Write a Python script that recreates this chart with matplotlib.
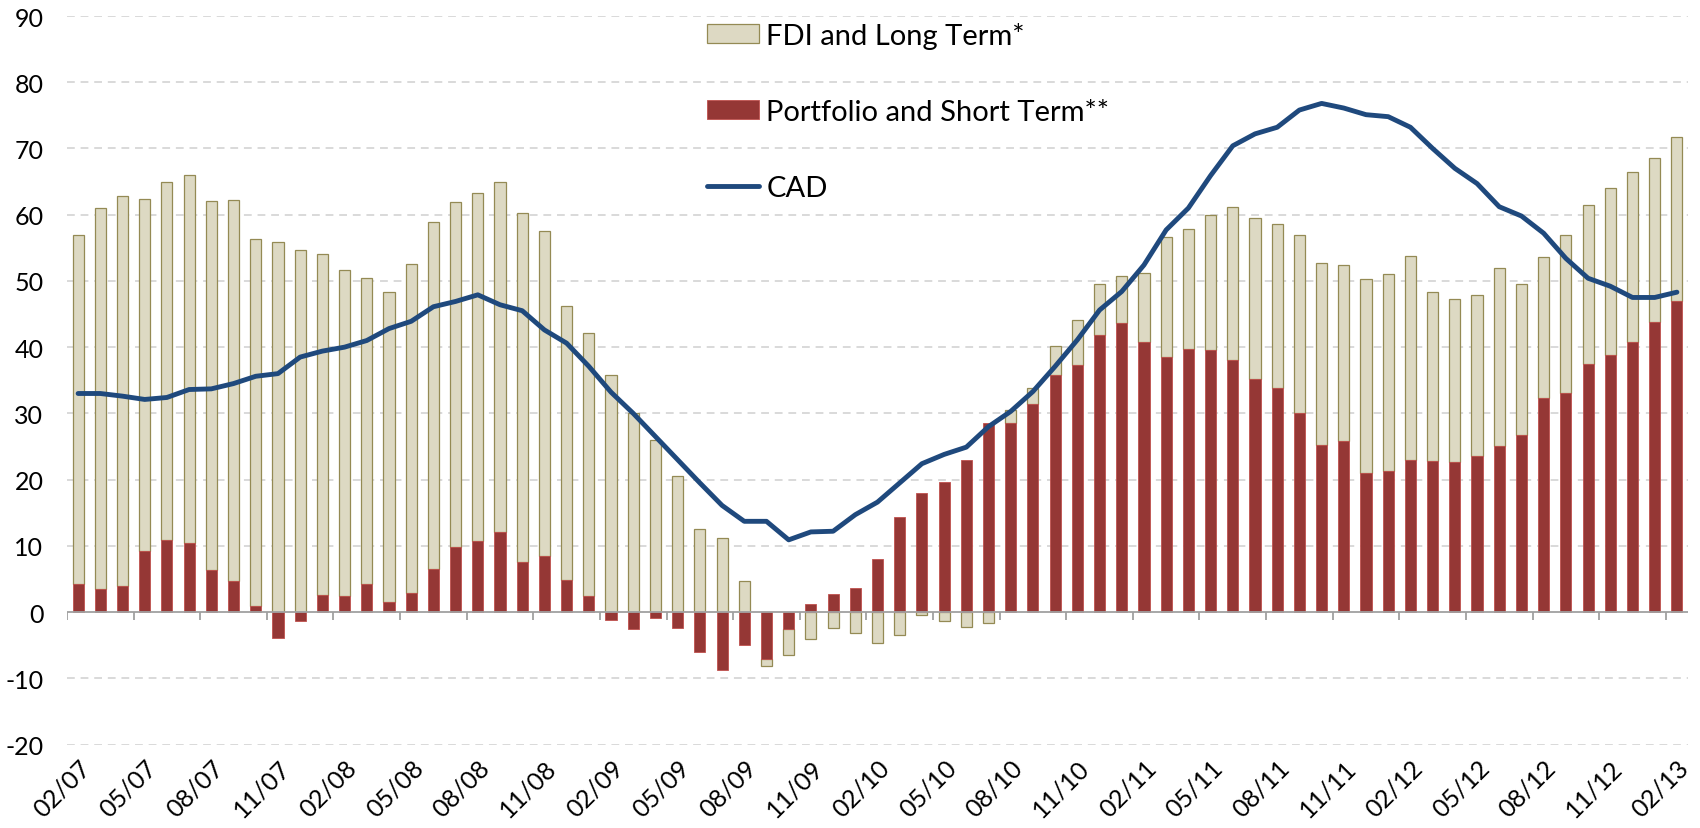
import numpy as np
import matplotlib.pyplot as plt

plt.rcParams['font.family'] = ['Lato', 'DejaVu Sans']
plt.rcParams['axes.unicode_minus'] = False

# monthly, 02/07 .. 02/13
tick_labels = ["02/07", "05/07", "08/07", "11/07", "02/08", "05/08", "08/08", "11/08",
               "02/09", "05/09", "08/09", "11/09", "02/10", "05/10", "08/10", "11/10",
               "02/11", "05/11", "08/11", "11/11", "02/12", "05/12", "08/12", "11/12", "02/13"]

portfolio = [4.2, 3.5, 4.0, 9.2, 10.9, 10.5, 6.4, 4.7, 0.9, -3.9,
             -1.4, 2.5, 2.4, 4.3, 1.5, 2.9, 6.5, 9.8, 10.8, 12.1,
             7.5, 8.4, 4.8, 2.4, -1.2, -2.6, -0.9, -2.4, -6.1, -8.7,
             -5.0, -7.1, -2.6, 1.2, 2.7, 3.6, 8.0, 14.4, 18.0, 19.7,
             23.0, 28.5, 28.6, 31.4, 35.8, 37.3, 41.9, 43.6, 40.8, 38.5,
             39.7, 39.5, 38.0, 35.2, 33.8, 30.1, 25.2, 25.8, 21.0, 21.3,
             22.9, 22.8, 22.7, 23.5, 25.0, 26.7, 32.3, 33.0, 37.4, 38.8,
             40.8, 43.8, 47.0]

fdi = [52.8, 57.5, 58.8, 53.1, 54.0, 55.5, 55.6, 57.5, 55.5, 55.9,
       54.7, 51.6, 49.2, 46.1, 46.8, 49.6, 52.4, 52.1, 52.4, 52.9,
       52.7, 49.1, 41.4, 39.7, 35.8, 30.0, 26.0, 20.5, 12.6, 11.2,
       4.7, -1.0, -3.9, -4.0, -2.4, -3.1, -4.6, -3.4, -0.5, -1.3,
       -2.2, -1.6, 1.9, 2.4, 4.4, 6.8, 7.7, 7.2, 10.4, 18.1,
       18.2, 20.5, 23.2, 24.3, 24.8, 26.9, 27.5, 26.6, 29.3, 29.7,
       30.8, 25.6, 24.6, 24.4, 26.9, 22.8, 21.3, 23.9, 24.0, 25.2,
       25.7, 24.8, 24.7]

cad = [33.0, 33.0, 32.6, 32.1, 32.4, 33.6, 33.7, 34.5, 35.6, 36.0,
       38.5, 39.4, 40.0, 41.0, 42.8, 43.9, 46.1, 46.9, 47.9, 46.4,
       45.5, 42.6, 40.6, 37.1, 33.2, 30.0, 26.5, 23.0, 19.5, 16.1,
       13.7, 13.7, 10.9, 12.1, 12.2, 14.7, 16.6, 19.5, 22.4, 23.8,
       24.9, 28.0, 30.3, 33.3, 37.1, 41.1, 45.6, 48.4, 52.4, 57.7,
       61.0, 65.9, 70.4, 72.2, 73.2, 75.8, 76.8, 76.1, 75.1, 74.8,
       73.2, 70.0, 67.0, 64.7, 61.2, 59.8, 57.2, 53.4, 50.4, 49.2,
       47.5, 47.5, 48.3]

p = np.array(portfolio)
f = np.array(fdi)
x = np.arange(len(p))
# excel style stacking: same sign stacks, opposite sign starts at 0
base = np.where((f >= 0) == (p >= 0), p, 0.0)

fig = plt.figure(figsize=(17, 8.29), dpi=100)
ax = fig.add_axes([67 / 1700, 1 - 745.5 / 829, (1688 - 67) / 1700, (745.5 - 17) / 829])

ax.set_ylim(-20, 90)
ax.set_xlim(-0.5, len(p) - 0.5)
ax.set_yticks(np.arange(-20, 91, 10))
for v in np.arange(-20, 91, 10):
    if v != 0:
        ax.axhline(v, color="#d9d9d9", lw=1.4, ls=(0, (4, 3)), zorder=0)

b2 = ax.bar(x, f, width=0.5, bottom=base, color="#ddd9c3", edgecolor="#948a54", lw=0.9,
            label="FDI and Long Term*", zorder=2)
b1 = ax.bar(x, p, width=0.5, color="#953735", edgecolor="#c0504d", lw=0.6,
            label="Portfolio and Short Term**", zorder=2)
ln, = ax.plot(x, cad, color="#1f497d", lw=3.5, label="CAD", zorder=4,
              solid_joinstyle="round", solid_capstyle="round")

# category axis at zero
ax.axhline(0, color="#a0a0a0", lw=1.3, zorder=3)
ax.vlines(np.arange(-0.5, len(p), 3), -1.2, 0, color="#a0a0a0", lw=1.3, zorder=3)

ax.set_xticks(x[::3])
ax.set_xticklabels(tick_labels, rotation=45, ha="right", rotation_mode="anchor", fontsize=18)
ax.tick_params(axis="x", length=0, pad=8)
ax.tick_params(axis="y", length=0, pad=17, labelsize=18)
for s in ax.spines.values():
    s.set_visible(False)

ax.legend([b2, b1, ln], ["FDI and Long Term*", "Portfolio and Short Term**", "CAD"],
          loc="upper left", bbox_to_anchor=(707 / 1700, 1 - 23 / 829),
          bbox_transform=fig.transFigure, frameon=False, fontsize=21,
          handlelength=1.78, handleheight=0.62, handletextpad=0.25,
          labelspacing=1.72, borderpad=0, borderaxespad=0)

plt.savefig("out.png", dpi=100)
